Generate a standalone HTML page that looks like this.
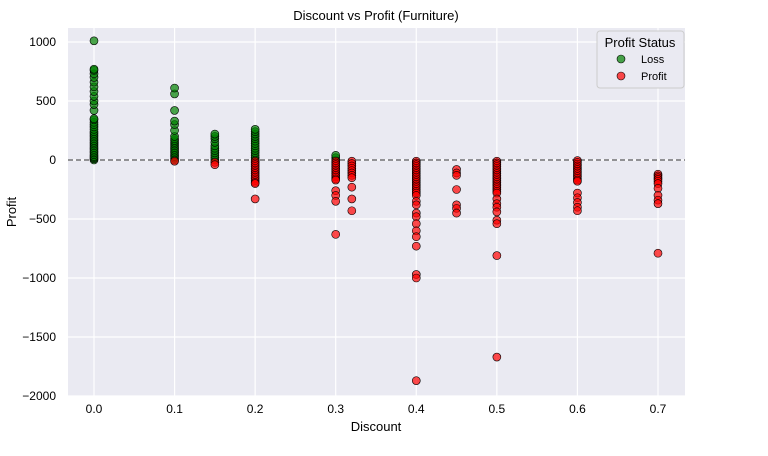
<!DOCTYPE html>
<html><head><meta charset="utf-8"><style>
body{margin:0;background:#fff;font-family:"Liberation Sans",Arial,sans-serif}
svg text{font-family:"Liberation Sans",Arial,sans-serif;fill:#000}
</style></head><body>
<svg id="chart" width="768" height="451" xmlns="http://www.w3.org/2000/svg">
<rect x="0" y="0" width="768" height="451" fill="#fff"/>
<rect x="68" y="28" width="617" height="368" fill="#eaeaf2"/>
<g id="grid"></g>
<g id="pts"></g>
<text x="376" y="20" text-anchor="middle" font-size="13">Discount vs Profit (Furniture)</text>
<text x="376" y="431" text-anchor="middle" font-size="13">Discount</text>
<text x="16" y="212" text-anchor="middle" font-size="13" transform="rotate(-90 16 212)">Profit</text>
<g>
<rect x="597" y="31" width="87" height="57" rx="3" fill="#eaeaf2" stroke="#ccc"/>
<text x="640" y="47" text-anchor="middle" font-size="13">Profit Status</text>
<circle cx="621" cy="59" r="4" fill="rgba(0,128,0,0.7)" stroke="#000" stroke-width="0.6"/>
<text x="641" y="63" font-size="11">Loss</text>
<circle cx="621" cy="76" r="4" fill="rgba(255,0,0,0.7)" stroke="#000" stroke-width="0.6"/>
<text x="641" y="80" font-size="11">Profit</text>
</g>
</svg>
<script>
const xTicks=[0,0.1,0.2,0.3,0.4,0.5,0.6,0.7];
const xTickLabels=["0.0","0.1","0.2","0.3","0.4","0.5","0.6","0.7"];
const yTicks=[1000,500,0,-500,-1000,-1500,-2000];
const discounts=[0,0.1,0.15,0.2,0.3,0.32,0.4,0.45,0.5,0.6,0.7];
const profits0=[0,10,20,30,45,60,75,90,105,120,135,150,165,180,195,210,225,240,260,280,300,320,340,350,420,470,500,540,580,620,660,700,730,760,770,1010];
const profits1=[0,15,30,45,60,75,90,105,120,135,150,165,180,200,250,300,330,420,560,610,-10];
const profits2=[0,20,40,60,80,100,120,150,180,200,220,-20,-40];
const profits3=[0,20,40,60,80,100,120,140,160,180,200,220,240,260,-10,-25,-40,-55,-70,-85,-100,-115,-130,-145,-160,-175,-190,-200,-330];
const profits4=[0,20,40,-10,-25,-40,-55,-70,-85,-100,-115,-130,-145,-160,-170,-260,-300,-350,-630];
const profits5=[-10,-30,-50,-70,-90,-110,-130,-150,-230,-330,-430];
const profits6=[-10,-25,-40,-55,-70,-85,-100,-115,-130,-145,-160,-175,-190,-205,-220,-235,-250,-265,-280,-300,-350,-380,-450,-480,-540,-600,-650,-730,-970,-1000,-1870];
const profits7=[-80,-110,-130,-250,-380,-410,-450];
const profits8=[-10,-25,-40,-55,-70,-85,-100,-115,-130,-145,-160,-175,-190,-205,-220,-235,-250,-265,-280,-330,-370,-400,-440,-510,-540,-810,-1670];
const profits9=[-5,-20,-35,-50,-65,-80,-95,-110,-125,-140,-155,-170,-180,-280,-320,-360,-400,-430];
const profits10=[-120,-135,-150,-165,-180,-200,-240,-300,-340,-370,-790];
const profitSets=[profits0,profits1,profits2,profits3,profits4,profits5,profits6,profits7,profits8,profits9,profits10];
const NS="http://www.w3.org/2000/svg";
const X=d=>94+d*805.7, Y=v=>160-v*0.118;
const grid=document.getElementById('grid'), pts=document.getElementById('pts');
function mk(tag,at,parent){const e=document.createElementNS(NS,tag);for(const k in at)e.setAttribute(k,at[k]);parent.appendChild(e);return e;}
xTicks.forEach((t,i)=>{
 const l=mk('line',{x1:X(t),x2:X(t),y1:28,y2:396,stroke:'#fff','stroke-width':1.2},grid);
 
 
 const tx=mk('text',{x:X(t),y:413,'text-anchor':'middle','font-size':12},document.getElementById('chart'));
 tx.textContent=xTickLabels[i];
 
 
});
yTicks.forEach(t=>{
 const l=mk('line',{x1:68,x2:685,y1:Y(t),y2:Y(t),stroke:'#fff','stroke-width':1.2},grid);
 
 
 const tx=mk('text',{x:56,y:Y(t)+4,'text-anchor':'end','font-size':12},document.getElementById('chart'));
 tx.textContent=String(t).replace('-','−');
 
 
});
const zl=mk('line',{x1:68,x2:685,y1:Y(0),y2:Y(0),stroke:'#333','stroke-width':1,'stroke-dasharray':'5,3'},grid);


discounts.forEach((d,i)=>{
 profitSets[i].forEach(v=>{
  const c=mk('circle',{cx:X(d),cy:Y(v),r:4,fill:v>=0?'rgba(0,128,0,0.7)':'rgba(255,0,0,0.7)',stroke:'#000','stroke-width':0.6},pts);
  
  
 });
});
</script>
</body></html>
